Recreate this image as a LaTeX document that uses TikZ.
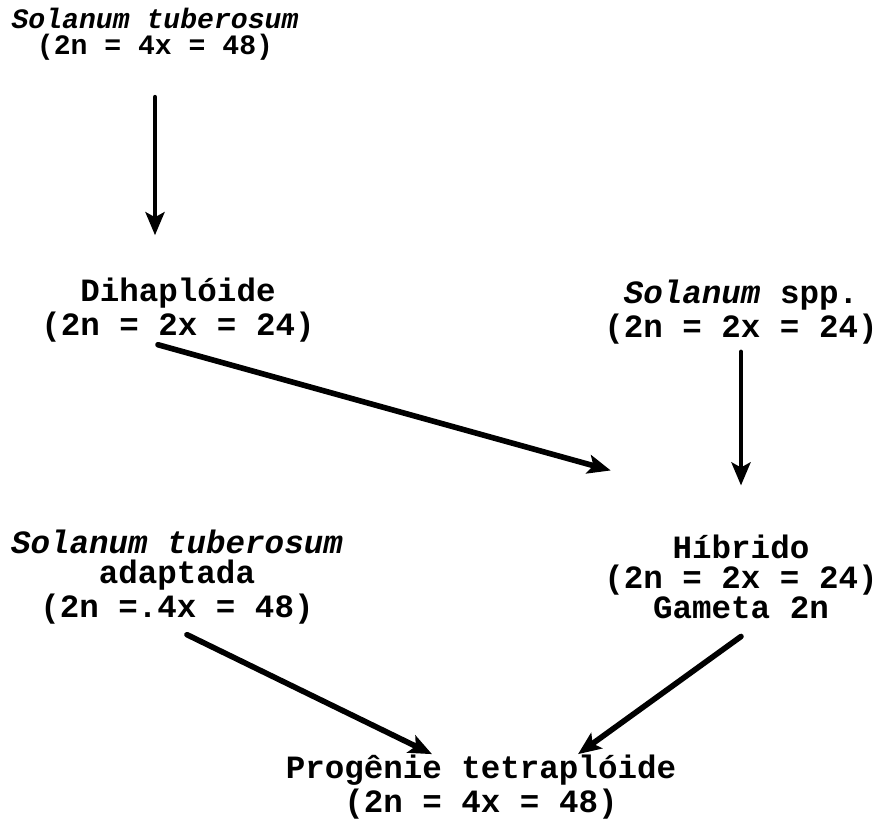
\documentclass[tikz,border=0pt]{standalone}
\usepackage{fontspec}
\setmonofont{Liberation Mono}
\usetikzlibrary{arrows.meta}

\begin{document}
\begin{tikzpicture}[line cap=round,
  every node/.style={font=\ttfamily\bfseries\fontsize{9.25}{8.5}\selectfont,align=center,inner sep=0pt},
  flow/.style={line width=1.2pt,-{Stealth[length=2.3mm,width=1.9mm,inset=0.5mm]}},
  cross/.style={flow,line width=1.6pt}]
  \useasboundingbox (0,0) rectangle (8.8,8.24);

  \node[font=\ttfamily\bfseries\fontsize{8}{7.5}\selectfont] (tub) at (1.55,7.9) {\textit{Solanum tuberosum}\\(2n = 4x = 48)};
  \node (dih) at (1.78,5.14) {Dihaplóide\\(2n = 2x = 24)};
  \node (spp) at (7.41,5.12) {\textit{Solanum} spp.\\(2n = 2x = 24)};
  \node (ada) at (1.77,2.47) {\textit{Solanum tuberosum}\\adaptada\\(2n =.4x = 48)};
  \node (hib) at (7.41,2.47) {Híbrido\\(2n = 2x = 24)\\Gameta 2n};
  \node (prog) at (4.81,0.37) {Progênie tetraplóide\\(2n = 4x = 48)};

  \draw[flow,shorten <=3.6mm,shorten >=4.2mm] (tub.south) -- (tub.south |- dih.north);
  \draw[flow,shorten <=0.7mm,shorten >=4.9mm] (spp.south) -- (hib.north);
  \draw[cross] ([xshift=-2mm,yshift=-0.2mm]dih.south) -- ([xshift=0.7mm,yshift=6.4mm]hib.north west);
  \draw[cross] ([xshift=1mm,yshift=-1mm]ada.south) -- ([xshift=-4.9mm]prog.north);
  \draw[cross] ([yshift=-1.7mm]hib.south) -- ([xshift=9.7mm]prog.north);
\end{tikzpicture}
\end{document}
